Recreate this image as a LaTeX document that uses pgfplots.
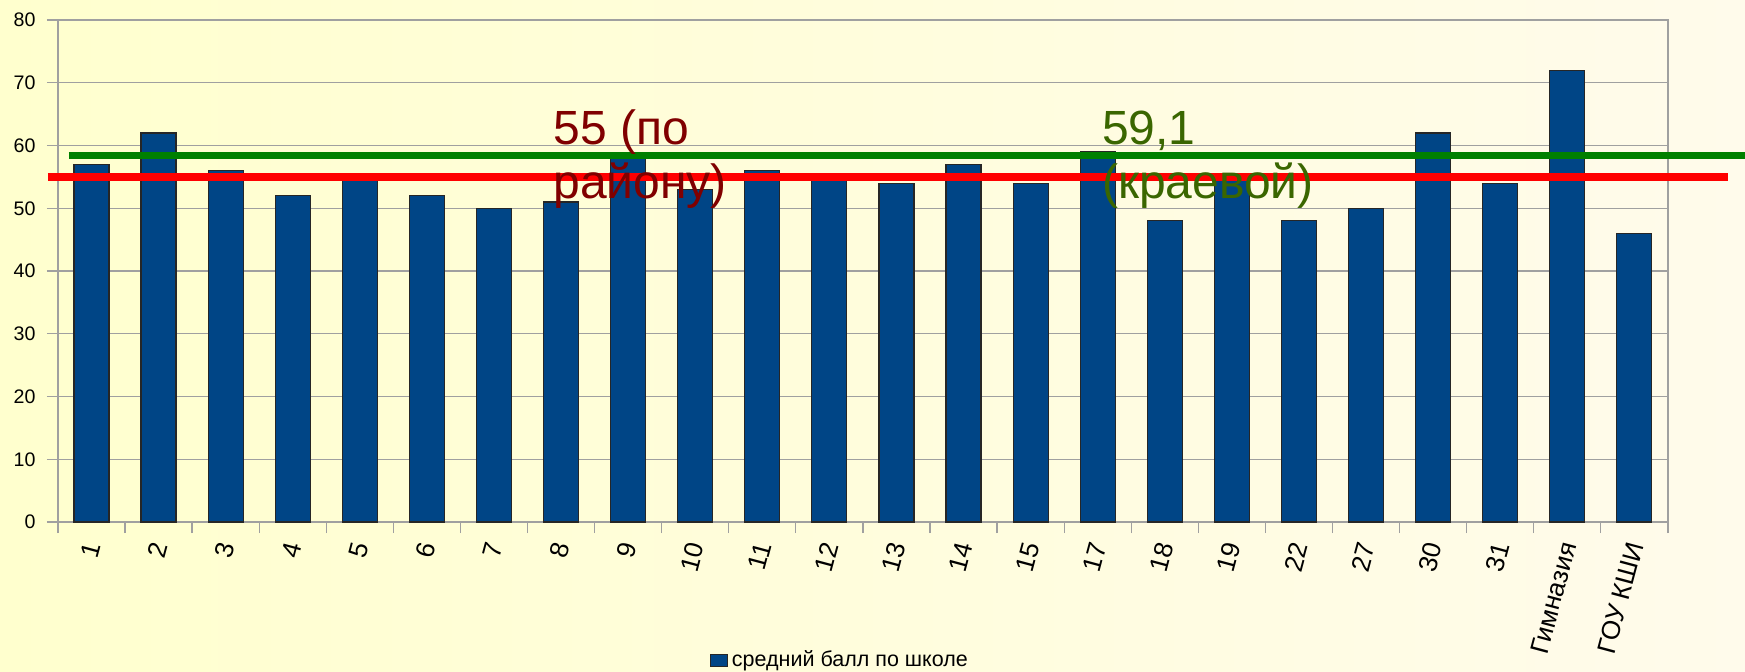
\documentclass[border=0pt]{standalone}
\usepackage{pgfplots}
\pgfplotsset{compat=1.18}
\usepackage{fontspec}
\setmainfont{Liberation Sans}
\definecolor{barblue}{HTML}{004586}
\definecolor{gridgray}{HTML}{A0A0A0}
\definecolor{lred}{HTML}{FF0000}
\definecolor{lgreen}{HTML}{008000}
\definecolor{tred}{HTML}{800000}
\definecolor{tgreen}{HTML}{3A6600}
\definecolor{bgl}{HTML}{FFFFCE}
\definecolor{bgr}{HTML}{FFFBEB}
\begin{document}
\begin{tikzpicture}
\shade[left color=bgl, right color=bgr] (-28.95pt,-74.5pt) rectangle (843.55pt,261pt);
\begin{axis}[
  scale only axis, width=805pt, height=251pt,
  xmin=-0.5, xmax=23.5, ymin=0, ymax=80,
  ytick={0,10,...,80},
  xtick={0,...,23},
  xticklabels={1,2,3,4,5,6,7,8,9,10,11,12,13,14,15,17,18,19,22,27,30,31,Гимназия,ГОУ КШИ},
  minor xtick={-0.5,0.5,...,23.5},
  xtick pos=bottom, ytick pos=left,
  ymajorgrids, grid style={gridgray, line width=0.65pt},
  axis line style={gridgray, line width=0.65pt},
  tick align=outside,
  major tick length=5.5pt, minor tick length=5.5pt,
  major x tick style={draw=none},
  minor x tick style={gridgray, line width=0.65pt},
  y tick style={gridgray, line width=0.65pt},
  /pgf/number format/assume math mode=true,
  yticklabel style={font=\fontsize{9.8}{11}\selectfont, inner sep=0pt, xshift=-5.5pt},
  xticklabel style={font=\fontsize{13}{15}\selectfont, xshift=0.5pt, yshift=-4.8pt, rotate=75, anchor=east, inner sep=0pt},
  clip=false,
  legend style={draw=none, fill=none, inner sep=0pt, outer sep=0pt, anchor=west, at={(0.405,-0.275)}, font=\fontsize{10.75}{12}\selectfont},
  legend image code/.code={\draw[fill=barblue, draw=black!85, line width=0.5pt] (0pt,-3pt) rectangle (8.5pt,3pt);},
]
\addplot[ybar, bar width=17.5pt, fill=barblue, draw=black!85, line width=0.6pt] coordinates {
(0,57) (1,62) (2,56) (3,52) (4,55) (5,52) (6,50) (7,51) (8,58) (9,53) (10,56) (11,55)
(12,54) (13,57) (14,54) (15,59) (16,48) (17,55) (18,48) (19,50) (20,62) (21,54) (22,72) (23,46)};
\addlegendentry{средний балл по школе}
\addplot[lred, line width=3.7pt, forget plot] coordinates {(-0.649,55) (24.396,55)};
\addplot[lgreen, line width=3.8pt, forget plot] coordinates {(-0.336,58.4) (24.7,58.4)};
\node[anchor=base west, inner sep=0pt, text=tred, font=\fontsize{24}{28}\selectfont] at (axis cs:6.88,60.1) {55 (по};
\node[anchor=base west, inner sep=0pt, text=tred, font=\fontsize{24}{28}\selectfont] at (axis cs:6.88,51.5) {району)};
\node[anchor=base west, inner sep=0pt, text=tgreen, font=\fontsize{24}{28}\selectfont] at (axis cs:15.06,60.1) {59,1};
\node[anchor=base west, inner sep=0pt, text=tgreen, font=\fontsize{24}{28}\selectfont] at (axis cs:15.06,51.5) {(краевой)};
\end{axis}
\pgfresetboundingbox
\path[use as bounding box] (-28.95pt,-74.5pt) rectangle (843.55pt,261pt);
\end{tikzpicture}
\end{document}
